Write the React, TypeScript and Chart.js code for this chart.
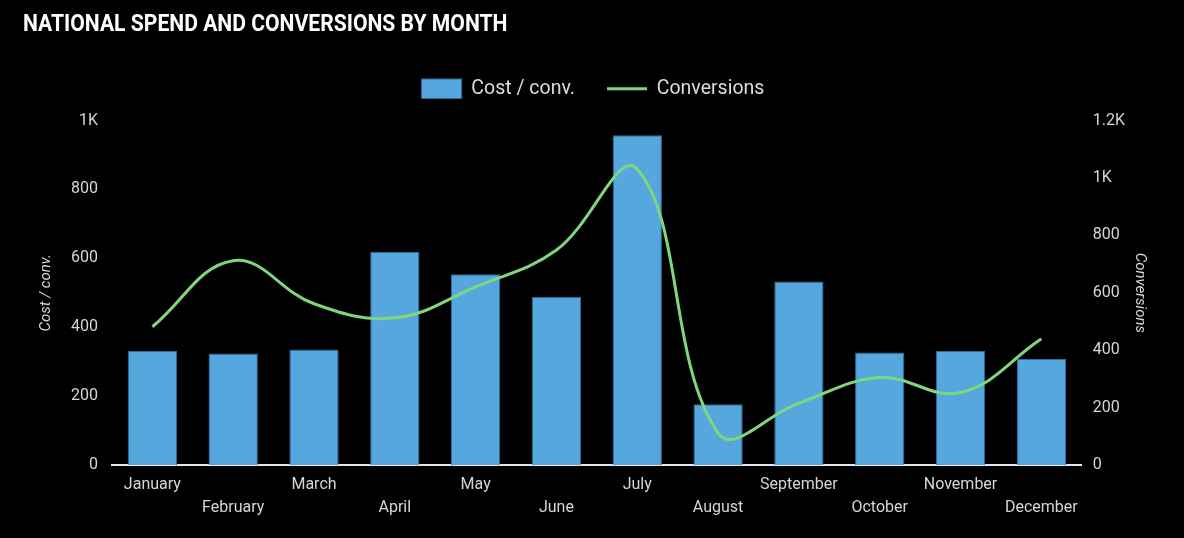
import React, { useEffect, useRef } from "react";
import { Chart, registerables } from "chart.js";

Chart.register(...registerables);

const months = ["January", "February", "March", "April", "May", "June", "July", "August", "September", "October", "November", "December"];
const costPerConv = [332, 324, 336, 619, 554, 489, 957, 177, 533, 327, 332, 308];
const conversions = [482, 712, 562, 513, 621, 749, 1030, 112, 216, 305, 253, 440];
const leftTicks = [0, 200, 400, 600, 800, 1000];
const rightTicks = [0, 200, 400, 600, 800, 1000, 1200];

const fmt = (v: number) => (v >= 1000 ? `${+(v / 1000).toFixed(1)}K` : `${v}`);
const FONT = "Roboto, 'Noto Sans', sans-serif";

// adds a little room between the legend and the plot area
const legendGap = {
  id: "legendGap",
  beforeUpdate(chart: any) {
    const lg = chart.legend;
    if (lg && !lg._gapPatched) {
      const fit = lg.fit.bind(lg);
      lg.fit = function () {
        fit();
        this.height += 12;
      };
      lg._gapPatched = true;
    }
  },
};

export default function App() {
  const ref = useRef<HTMLCanvasElement | null>(null);
  useEffect(() => {
    if (!ref.current) return;
    const labels = months.map((m, i) => (i % 2 === 0 ? [m] : ["", m]));
    const chart = new Chart(ref.current, {
      data: {
        labels,
        datasets: [
          {
            type: "bar",
            label: "Cost / conv.",
            data: costPerConv,
            backgroundColor: "#55a7de",
            borderColor: "#2f6e9c",
            borderWidth: 1,
            categoryPercentage: 0.61,
            barPercentage: 1,
            yAxisID: "y",
            order: 1,
          },
          {
            type: "line",
            label: "Conversions",
            data: conversions,
            borderColor: "#7fd67d",
            backgroundColor: "#7fd67d",
            borderWidth: 3,
            pointRadius: 0,
            tension: 0.4,
            yAxisID: "y1",
            order: 0,
          },
        ],
      } as any,
      plugins: [legendGap],
      options: {
        responsive: false,
        animation: false,
        devicePixelRatio: 1,
        layout: { padding: { top: 47, left: 29, right: 27, bottom: 10 } },
        plugins: {
          tooltip: { enabled: false },
          legend: {
            position: "top",
            labels: {
              color: "#dddddd",
              font: { family: FONT, size: 19.5 },
              usePointStyle: true,
              pointStyleWidth: 40,
              boxHeight: 20,
              padding: 32,
              generateLabels: (c: any) =>
                c.data.datasets.map((d: any, i: number) => ({
                  text: d.label,
                  fillStyle: i === 0 ? "#55a7de" : "transparent",
                  strokeStyle: i === 0 ? "#2f6e9c" : "#7fd67d",
                  lineWidth: i === 0 ? 1 : 3,
                  pointStyle: i === 0 ? "rect" : "line",
                  fontColor: "#dddddd",
                  hidden: false,
                  datasetIndex: i,
                })),
            },
          },
        },
        scales: {
          x: {
            grid: { display: false, drawTicks: false },
            border: { display: true, color: "#e6e6e6", width: 2 },
            ticks: {
              color: "#d6d6d6",
              font: { family: FONT, size: 16, lineHeight: 1.4 },
              maxRotation: 0,
              autoSkip: false,
              padding: 9,
            },
          },
          y: {
            position: "left",
            min: 0,
            max: 1000,
            afterBuildTicks: (s: any) => { s.ticks = leftTicks.map((v) => ({ value: v })); },
            grid: { display: false, drawTicks: false },
            border: { display: false },
            ticks: { color: "#d6d6d6", font: { family: FONT, size: 16 }, padding: 14, callback: (v: any) => fmt(+v) },
            title: { display: true, text: "Cost / conv.", color: "#d6d6d6", font: { family: FONT, size: 15, style: "italic" }, padding: { top: 8, bottom: 2 } },
          },
          y1: {
            position: "right",
            min: 0,
            max: 1200,
            afterBuildTicks: (s: any) => { s.ticks = rightTicks.map((v) => ({ value: v })); },
            grid: { display: false, drawTicks: false },
            border: { display: false },
            ticks: { color: "#d6d6d6", font: { family: FONT, size: 16 }, padding: 11, callback: (v: any) => fmt(+v) },
            title: { display: true, text: "Conversions", color: "#d6d6d6", font: { family: FONT, size: 15, style: "italic" }, padding: { top: 8, bottom: -5 } },
          },
        },
      } as any,
    });
    return () => chart.destroy();
  }, []);

  return (
    <div style={{ position: "fixed", left: 0, top: 0, width: 1184, height: 538, background: "#000", overflow: "hidden" }}>
      <canvas ref={ref} width={1184} height={538} style={{ position: "absolute", left: 0, top: 0, width: 1184, height: 538 }} />
      <div style={{ position: "absolute", left: 23, top: 9, color: "#fff", fontFamily: FONT, fontWeight: 700, fontSize: 24, whiteSpace: "nowrap", transform: "scaleX(0.88)", transformOrigin: "left center" }}>
        NATIONAL SPEND AND CONVERSIONS BY MONTH
      </div>
    </div>
  );
}
